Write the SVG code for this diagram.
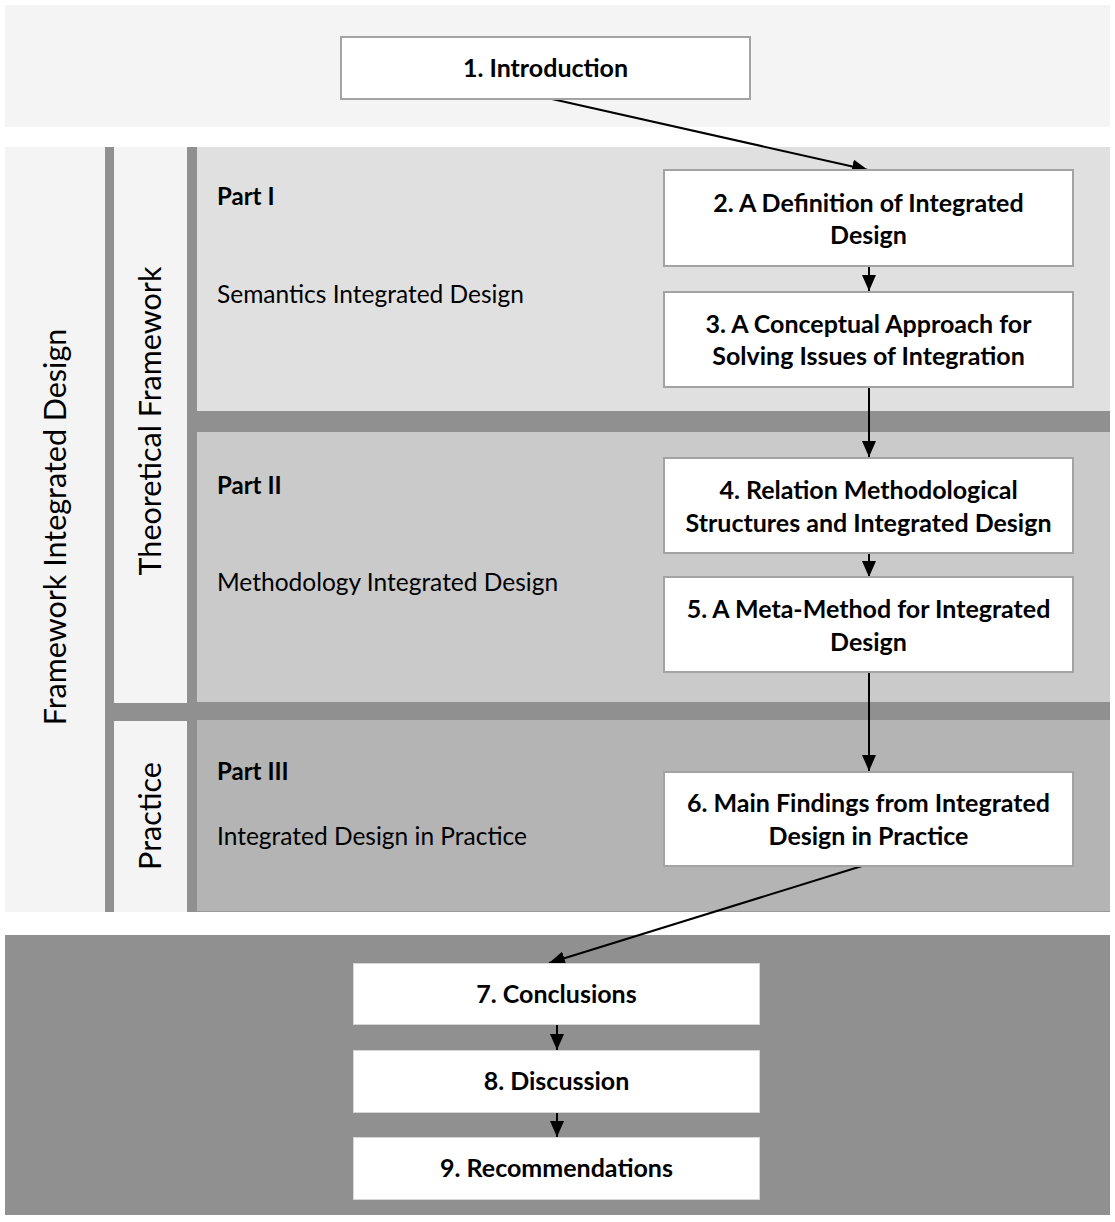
<svg xmlns="http://www.w3.org/2000/svg" width="1115" height="1222" viewBox="0 0 1115 1222">
  <defs>
    <marker id="arrow" markerUnits="userSpaceOnUse" markerWidth="16" markerHeight="14" viewBox="0 0 16 14" refX="16" refY="7" orient="auto">
      <path d="M0,0 L16,7 L0,14 Z" fill="#000"/>
    </marker>
  </defs>
  <style>
    .box { fill: #ffffff; stroke: #a3a3a3; stroke-width: 2; }
    .box-lite { fill: #ffffff; stroke: #d6d6d6; stroke-width: 1; }
    .title { font-family: Lato, "Liberation Sans", sans-serif; font-weight: bold; font-size: 25px; fill: #000; text-anchor: middle; }
    .part { font-family: Lato, "Liberation Sans", sans-serif; font-weight: bold; font-size: 24px; fill: #000; }
    .label { font-family: Lato, "Liberation Sans", sans-serif; font-size: 24.5px; fill: #000; }
    .side { font-family: Lato, "Liberation Sans", sans-serif; font-size: 30.5px; fill: #000; text-anchor: middle; }
    .conn { stroke: #000; stroke-width: 2; fill: none; marker-end: url(#arrow); }
  </style>

  <!-- background bands -->
  <g id="bands">
    <rect x="5" y="5" width="1105" height="122" fill="#f4f4f4"/>
    <rect x="105" y="147" width="1005" height="765" fill="#909090"/>
    <rect x="5" y="147" width="100" height="765" fill="#f4f4f4"/>
    <rect x="114" y="147" width="73" height="556" fill="#f4f4f4"/>
    <rect x="114" y="721" width="73" height="191" fill="#f4f4f4"/>
    <rect x="197" y="147" width="913" height="264" fill="#e0e0e0"/>
    <rect x="197" y="432" width="913" height="270" fill="#cacaca"/>
    <rect x="197" y="720" width="913" height="192" fill="#b4b4b4"/>
    <line x1="197" y1="911.5" x2="1110" y2="911.5" stroke="#9a9a9a" stroke-width="1"/>
    <rect x="5" y="935" width="1105" height="280" fill="#909090"/>
  </g>

  <!-- side captions -->
  <g id="side-labels">
    <text class="side" transform="translate(66,527) rotate(-90)">Framework Integrated Design</text>
    <text class="side" transform="translate(161,421) rotate(-90)">Theoretical Framework</text>
    <text class="side" transform="translate(161,816) rotate(-90)">Practice</text>
  </g>

  <!-- part captions -->
  <g id="part-labels">
    <text class="part" x="217" y="205">Part I</text>
    <text class="label" x="217" y="303">Semantics Integrated Design</text>
    <text class="part" x="217" y="494">Part II</text>
    <text class="label" x="217" y="591">Methodology Integrated Design</text>
    <text class="part" x="217" y="780">Part III</text>
    <text class="label" x="217" y="845">Integrated Design in Practice</text>
  </g>

  <!-- connectors -->
  <g id="connectors">
    <line class="conn" x1="552" y1="99" x2="868" y2="170"/>
    <line class="conn" x1="869" y1="266" x2="869" y2="291"/>
    <line class="conn" x1="869" y1="387" x2="869" y2="457"/>
    <line class="conn" x1="869" y1="553" x2="869" y2="577"/>
    <line class="conn" x1="869" y1="672" x2="869" y2="771"/>
    <line class="conn" x1="862" y1="866" x2="549" y2="963"/>
    <line class="conn" x1="557" y1="1025" x2="557" y2="1050"/>
    <line class="conn" x1="557" y1="1112" x2="557" y2="1137"/>
  </g>

  <!-- chapter nodes -->
  <g id="node-1">
    <rect class="box" x="341" y="37" width="409" height="62"/>
    <text class="title" x="545.5" y="77">1. Introduction</text>
  </g>
  <g id="node-2">
    <rect class="box" x="664" y="170" width="409" height="96"/>
    <text class="title" x="868.5" y="212">2. A Definition of Integrated</text>
    <text class="title" x="868.5" y="244">Design</text>
  </g>
  <g id="node-3">
    <rect class="box" x="664" y="292" width="409" height="95"/>
    <text class="title" x="868.5" y="333">3. A Conceptual Approach for</text>
    <text class="title" x="868.5" y="365">Solving Issues of Integration</text>
  </g>
  <g id="node-4">
    <rect class="box" x="664" y="458" width="409" height="95"/>
    <text class="title" x="868.5" y="499">4. Relation Methodological</text>
    <text class="title" x="868.5" y="532">Structures and Integrated Design</text>
  </g>
  <g id="node-5">
    <rect class="box" x="664" y="577" width="409" height="95"/>
    <text class="title" x="868.5" y="618">5. A Meta-Method for Integrated</text>
    <text class="title" x="868.5" y="651">Design</text>
  </g>
  <g id="node-6">
    <rect class="box" x="664" y="772" width="409" height="94"/>
    <text class="title" x="868.5" y="812">6. Main Findings from Integrated</text>
    <text class="title" x="868.5" y="845">Design in Practice</text>
  </g>
  <g id="node-7">
    <rect class="box-lite" x="353.5" y="963.5" width="406" height="61"/>
    <text class="title" x="556.5" y="1003">7. Conclusions</text>
  </g>
  <g id="node-8">
    <rect class="box-lite" x="353.5" y="1050.5" width="406" height="62"/>
    <text class="title" x="556.5" y="1090">8. Discussion</text>
  </g>
  <g id="node-9">
    <rect class="box-lite" x="353.5" y="1137.5" width="406" height="62"/>
    <text class="title" x="556.5" y="1177">9. Recommendations</text>
  </g>
</svg>
